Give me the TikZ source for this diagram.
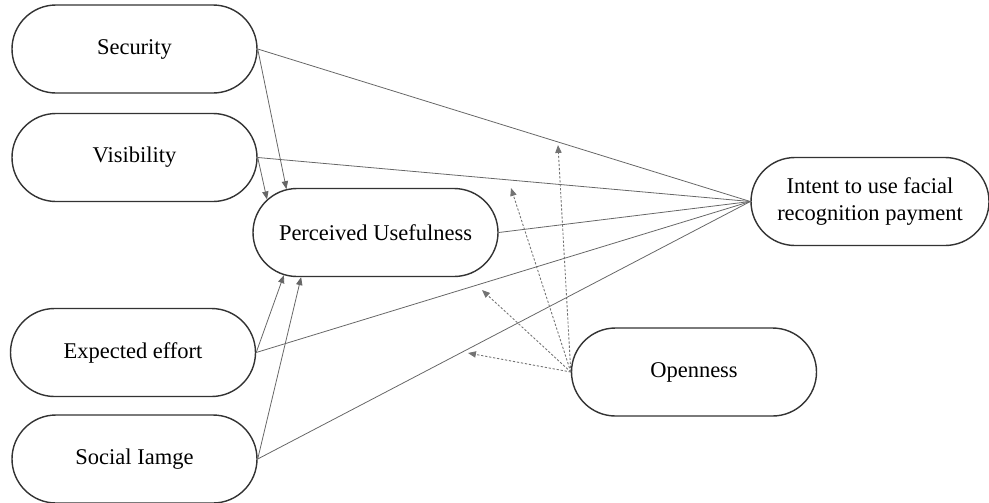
\documentclass[tikz,border=0pt]{standalone}
\usepackage{fontspec}
\setmainfont{Liberation Serif}
\usetikzlibrary{shapes.misc,arrows.meta}

\begin{document}
\begin{tikzpicture}[
    factor/.style={rounded rectangle,draw=black!80,line width=0.8pt,
      minimum width=4.9cm,minimum height=1.76cm,inner sep=0pt,
      align=center,font=\fontsize{12.8}{15}\selectfont},
    path/.style={draw=black!60,line width=0.45pt},
    effect/.style={path,-{Triangle[length=4.5pt,width=3.6pt]}},
    moderate/.style={draw=black!55,line width=0.5pt,dash pattern=on 1.3pt off 1pt,
      -{Triangle[length=4.5pt,width=3.6pt]}}
  ]

  \useasboundingbox (0,0) rectangle (19.78,-10.04);

  \node (sec) at (2.69,-0.98) [factor] {Security};
  \node (vis) at (2.69,-3.15) [factor] {Visibility};
  \node (pu)  at (7.51,-4.65) [factor] {Perceived Usefulness};
  \node (exp) at (2.66,-7.05) [factor] {Expected effort};
  \node (soc) at (2.69,-9.18) [factor] {Social Iamge};
  \node (int) at (17.40,-4.03) [factor,minimum width=4.76cm]
    {Intent to use facial\\recognition payment};
  \node (opn) at (13.88,-7.44) [factor] {Openness};

  % direct paths to intent
  \foreach \n in {sec,vis,pu,exp,soc} {
    \draw[path] (\n.east) -- (int.west);
    }

  % paths into perceived usefulness
  \draw[effect] (sec.east) -- (pu.154);
  \draw[effect] (vis.east) -- (pu.163.5);
  \draw[effect] (exp.east) -- (pu.205);
  \draw[effect] (soc.east) -- (pu.211);

  % moderation by openness
  \coordinate (m1) at (11.16,-2.90);
  \coordinate (m2) at (10.22,-3.76);
  \coordinate (m3) at (9.64,-5.80);
  \coordinate (m4) at (9.36,-7.06);
  \foreach \m in {m1,m2,m3,m4} {
    \draw[moderate] (opn.west) -- (\m);
    }

\end{tikzpicture}
\end{document}
